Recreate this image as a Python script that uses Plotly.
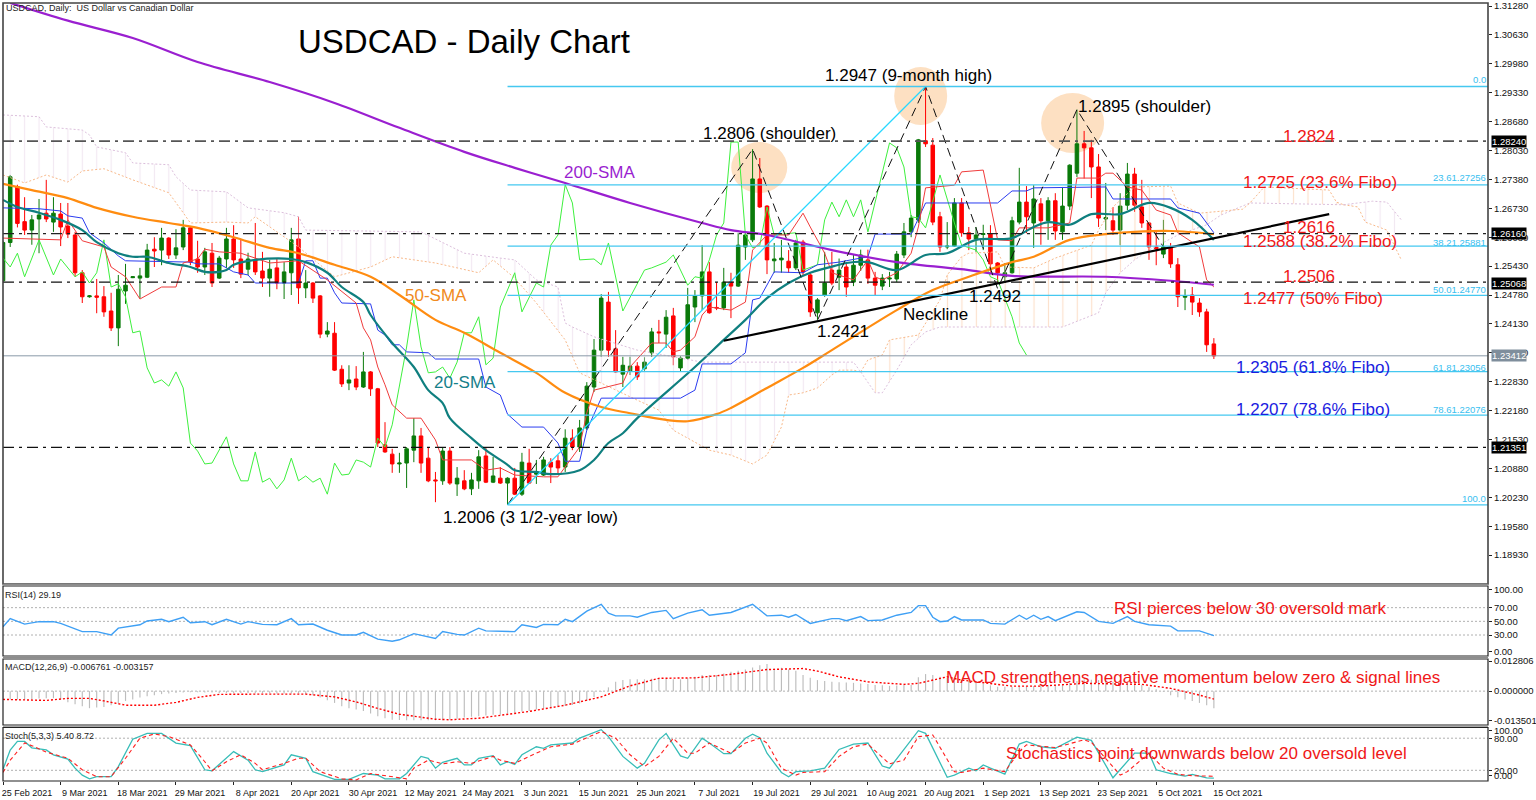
import plotly.graph_objects as go

W, H = 1536, 800
L, R, BOT = 2.5, 1488.0, 781.0

# ---------- data ----------
tick_labels = ["25 Feb 2021","9 Mar 2021","18 Mar 2021","29 Mar 2021","8 Apr 2021","20 Apr 2021","30 Apr 2021",
               "12 May 2021","24 May 2021","3 Jun 2021","15 Jun 2021","25 Jun 2021","7 Jul 2021","19 Jul 2021",
               "29 Jul 2021","10 Aug 2021","20 Aug 2021","1 Sep 2021","13 Sep 2021","23 Sep 2021","5 Oct 2021","15 Oct 2021"]
price_ticks = [1.3128,1.3063,1.2998,1.2933,1.2868,1.2803,1.2738,1.2673,1.2608,1.2543,1.2478,1.2413,1.2348,1.2283,1.2218,1.2153,1.2088,1.2023,1.1958,1.1893]

ohlc = [
(1.2510,1.2600,1.2505,1.2596),(1.2596,1.2748,1.2586,1.2744),(1.2722,1.2726,1.2630,1.2639),(1.2643,1.2698,1.2613,1.2624),
(1.2624,1.2658,1.2591,1.2647),(1.2649,1.2694,1.2572,1.2658),(1.2662,1.2737,1.2642,1.2649),(1.2642,1.2698,1.2620,1.2662),
(1.2660,1.2685,1.2588,1.2631),(1.2633,1.2685,1.2606,1.2615),(1.2613,1.2620,1.2519,1.2528),(1.2528,1.2534,1.2460,1.2474),
(1.2474,1.2478,1.2472,1.2476),(1.2476,1.2514,1.2437,1.2473),(1.2474,1.2498,1.2429,1.2440),(1.2442,1.2483,1.2397,1.2404),
(1.2404,1.2523,1.2363,1.2491),(1.2487,1.2548,1.2458,1.2500),(1.2517,1.2520,1.2516,1.2519),(1.2516,1.2539,1.2471,1.2521),
(1.2518,1.2593,1.2516,1.2579),(1.2581,1.2608,1.2541,1.2577),(1.2579,1.2629,1.2545,1.2606),(1.2606,1.2608,1.2559,1.2568),
(1.2568,1.2626,1.2559,1.2584),(1.2586,1.2647,1.2579,1.2629),(1.2629,1.2631,1.2545,1.2552),(1.2559,1.2600,1.2528,1.2541),
(1.2541,1.2584,1.2523,1.2575),(1.2572,1.2595,1.2496,1.2505),(1.2516,1.2566,1.2514,1.2561),(1.2559,1.2629,1.2539,1.2604),
(1.2604,1.2635,1.2539,1.2557),(1.2559,1.2602,1.2516,1.2525),(1.2536,1.2573,1.2523,1.2559),(1.2557,1.2640,1.2523,1.2530),
(1.2532,1.2575,1.2496,1.2516),(1.2516,1.2557,1.2474,1.2536),(1.2539,1.2559,1.2491,1.2505),(1.2505,1.2552,1.2469,1.2530),
(1.2528,1.2629,1.2478,1.2602),(1.2604,1.2654,1.2458,1.2494),(1.2494,1.2534,1.2471,1.2505),(1.2505,1.2507,1.2460,1.2471),
(1.2476,1.2478,1.2381,1.2390),(1.2390,1.2417,1.2383,1.2397),(1.2392,1.2417,1.2307,1.2309),(1.2311,1.2320,1.2271,1.2278),
(1.2280,1.2320,1.2264,1.2287),(1.2289,1.2318,1.2264,1.2271),(1.2271,1.2350,1.2269,1.2305),(1.2305,1.2307,1.2251,1.2267),
(1.2267,1.2269,1.2136,1.2145),(1.2141,1.2192,1.2123,1.2125),(1.2120,1.2132,1.2078,1.2098),(1.2098,1.2123,1.2078,1.2100),
(1.2100,1.2136,1.2044,1.2132),(1.2129,1.2201,1.2102,1.2161),(1.2161,1.2179,1.2078,1.2100),(1.2111,1.2136,1.2057,1.2060),
(1.2062,1.2080,1.2012,1.2060),(1.2060,1.2136,1.2051,1.2127),(1.2127,1.2136,1.2051,1.2055),(1.2053,1.2091,1.2026,1.2066),
(1.2060,1.2084,1.2039,1.2042),(1.2042,1.2078,1.2028,1.2062),(1.2060,1.2129,1.2042,1.2114),(1.2116,1.2136,1.2055,1.2057),
(1.2057,1.2114,1.2055,1.2071),(1.2066,1.2091,1.2053,1.2055),(1.2055,1.2068,1.2006,1.2066),(1.2066,1.2089,1.2028,1.2030),
(1.2030,1.2123,1.2026,1.2102),(1.2100,1.2132,1.2053,1.2055),(1.2075,1.2107,1.2053,1.2080),(1.2073,1.2114,1.2071,1.2107),
(1.2102,1.2111,1.2055,1.2091),(1.2105,1.2118,1.2075,1.2089),(1.2091,1.2176,1.2080,1.2156),(1.2156,1.2176,1.2129,1.2136),
(1.2136,1.2197,1.2125,1.2179),(1.2179,1.2282,1.2174,1.2273),(1.2271,1.2379,1.2260,1.2354),(1.2354,1.2480,1.2339,1.2471),
(1.2462,1.2485,1.2339,1.2354),(1.2357,1.2399,1.2303,1.2305),(1.2300,1.2339,1.2271,1.2320),(1.2307,1.2339,1.2298,1.2318),
(1.2318,1.2327,1.2287,1.2294),(1.2312,1.2338,1.2305,1.2327),(1.2348,1.2404,1.2339,1.2395),(1.2395,1.2422,1.2370,1.2393),
(1.2390,1.2444,1.2359,1.2428),(1.2431,1.2449,1.2320,1.2339),(1.2314,1.2340,1.2305,1.2336),(1.2336,1.2494,1.2332,1.2456),
(1.2451,1.2489,1.2417,1.2476),(1.2476,1.2590,1.2444,1.2530),(1.2530,1.2552,1.2436,1.2438),(1.2450,1.2507,1.2444,1.2449),
(1.2449,1.2539,1.2444,1.2507),(1.2507,1.2528,1.2426,1.2498),(1.2498,1.2617,1.2496,1.2590),(1.2586,1.2617,1.2557,1.2613),
(1.2602,1.2806,1.2597,1.2739),(1.2739,1.2786,1.2674,1.2676),(1.2678,1.2680,1.2525,1.2557),(1.2555,1.2595,1.2528,1.2559),
(1.2557,1.2602,1.2528,1.2561),(1.2554,1.2579,1.2528,1.2539),(1.2539,1.2602,1.2534,1.2595),(1.2597,1.2602,1.2523,1.2530),
(1.2523,1.2530,1.2429,1.2440),(1.2438,1.2471,1.2422,1.2467),(1.2478,1.2575,1.2474,1.2505),(1.2534,1.2575,1.2500,1.2505),
(1.2518,1.2560,1.2489,1.2534),(1.2541,1.2550,1.2474,1.2496),(1.2507,1.2568,1.2498,1.2545),(1.2545,1.2580,1.2532,1.2568),
(1.2557,1.2580,1.2503,1.2516),(1.2516,1.2530,1.2476,1.2500),(1.2498,1.2525,1.2489,1.2516),(1.2514,1.2530,1.2496,1.2516),
(1.2514,1.2577,1.2507,1.2570),(1.2568,1.2640,1.2561,1.2620),(1.2620,1.2658,1.2608,1.2651),(1.2647,1.2829,1.2640,1.2827),
(1.2825,1.2947,1.2811,1.2818),(1.2815,1.2831,1.2635,1.2642),(1.2654,1.2665,1.2575,1.2586),(1.2586,1.2642,1.2581,1.2588),
(1.2588,1.2696,1.2586,1.2685),(1.2685,1.2696,1.2609,1.2618),(1.2618,1.2631,1.2579,1.2604),(1.2604,1.2631,1.2575,1.2613),
(1.2614,1.2636,1.2579,1.2616),(1.2615,1.2635,1.2528,1.2548),(1.2550,1.2552,1.2505,1.2528),(1.2519,1.2550,1.2505,1.2528),
(1.2528,1.2654,1.2526,1.2645),(1.2642,1.2764,1.2637,1.2687),(1.2687,1.2723,1.2617,1.2654),(1.2640,1.2725,1.2584,1.2694),
(1.2683,1.2696,1.2591,1.2645),(1.2645,1.2698,1.2602,1.2690),(1.2690,1.2707,1.2602,1.2622),(1.2620,1.2721,1.2602,1.2678),
(1.2678,1.2772,1.2669,1.2770),(1.2752,1.2895,1.2743,1.2818),(1.2818,1.2847,1.2740,1.2809),(1.2809,1.2827,1.2696,1.2766),
(1.2766,1.2795,1.2631,1.2651),(1.2649,1.2730,1.2624,1.2652),(1.2645,1.2676,1.2613,1.2624),(1.2624,1.2707,1.2590,1.2678),
(1.2680,1.2775,1.2669,1.2750),(1.2750,1.2764,1.2665,1.2680),(1.2676,1.2737,1.2629,1.2640),(1.2640,1.2642,1.2557,1.2586),
(1.2586,1.2624,1.2545,1.2582),(1.2570,1.2647,1.2561,1.2586),(1.2586,1.2595,1.2539,1.2548),(1.2546,1.2561,1.2451,1.2474),
(1.2473,1.2491,1.2444,1.2476),(1.2478,1.2496,1.2433,1.2462),(1.2460,1.2471,1.2429,1.2440),(1.2440,1.2447,1.2350,1.2366),
(1.2368,1.2381,1.2334,1.2341)]

sma200_i = [1,9,18,27,37,46,55,64,71,78,87,97,101,106,115,124,134,140,153,162,168]
sma200_v = [1.3135,1.3095,1.3056,1.3002,1.2957,1.2910,1.2854,1.2800,1.2764,1.2730,1.2685,1.2640,1.2624,1.2613,1.2579,1.2552,1.2534,1.2521,1.2519,1.2510,1.2501]

sma50_i = [0,4,9,13,18,23,27,32,37,41,46,51,55,60,64,69,74,78,83,87,92,95,99,101,106,111,115,124,129,134,140,143,148,153,157,162,168]
sma50_v = [1.2728,1.2714,1.2696,1.2674,1.2654,1.2640,1.2629,1.2608,1.2584,1.2572,1.2546,1.2519,1.2478,1.2422,1.2393,1.2348,1.2303,1.2258,1.2226,1.2212,1.2197,1.2194,1.2210,1.2224,1.2269,1.2314,1.2354,1.2444,1.2489,1.2519,1.2552,1.2564,1.2602,1.2615,1.2620,1.2622,1.2615]

sma20_i = [0,2,5,8,11,13,16,18,20,23,26,28,30,31,32,35,40,42,45,47,50,51,54,57,59,61,62,65,67,70,71,74,76,80,82,84,86,88,96,100,103,106,109,112,116,117,120,124,128,131,135,140,143,145,148,151,155,159,162,165,168]
sma20_v = [1.2692,1.2676,1.2663,1.2647,1.2624,1.2597,1.2572,1.2564,1.2564,1.2550,1.2541,1.2530,1.2530,1.2534,1.2546,1.2557,1.2559,1.2552,1.2528,1.2496,1.2462,1.2433,1.2370,1.2316,1.2264,1.2235,1.2201,1.2156,1.2129,1.2096,1.2084,1.2080,1.2075,1.2084,1.2107,1.2145,1.2167,1.2201,1.2316,1.2377,1.2422,1.2471,1.2505,1.2528,1.2546,1.2550,1.2552,1.2534,1.2568,1.2572,1.2602,1.2606,1.2631,1.2642,1.2636,1.2660,1.2660,1.2685,1.2674,1.2647,1.2602]

tenkan_i = [0,3,8,9,11,14,15,17,19,22,24,25,27,28,30,33,37,41,45,49,50,51,52,53,54,56,58,60,61,65,67,69,71,75,77,80,81,82,86,87,90,92,93,94,96,97,98,101,103,104,106,109,111,112,114,115,118,120,121,122,124,126,127,128,132,133,136,138,140,141,145,148,149,152,153,154,156,158,160,162,163,166,167,168]
tenkan_v = [1.2606,1.2604,1.2602,1.2647,1.2600,1.2586,1.2541,1.2519,1.2469,1.2496,1.2496,1.2550,1.2559,1.2581,1.2575,1.2572,1.2550,1.2555,1.2512,1.2460,1.2404,1.2377,1.2316,1.2276,1.2231,1.2201,1.2201,1.2152,1.2107,1.2107,1.2084,1.2089,1.2073,1.2069,1.2069,1.2136,1.2213,1.2264,1.2280,1.2316,1.2370,1.2370,1.2350,1.2354,1.2384,1.2433,1.2451,1.2444,1.2462,1.2579,1.2613,1.2613,1.2662,1.2631,1.2572,1.2528,1.2512,1.2557,1.2519,1.2512,1.2528,1.2572,1.2631,1.2719,1.2725,1.2755,1.2759,1.2602,1.2600,1.2629,1.2629,1.2640,1.2741,1.2741,1.2752,1.2752,1.2721,1.2714,1.2669,1.2658,1.2618,1.2586,1.2512,1.2496]

kijun_i = [0,5,8,9,11,12,14,16,17,26,27,30,32,34,35,41,42,43,44,45,46,47,51,52,53,54,55,56,59,60,66,67,69,70,72,75,77,78,80,81,83,94,96,97,101,103,104,105,107,111,113,116,120,121,126,128,138,140,142,143,153,154,162,163,166,168]
kijun_v = [1.2674,1.2672,1.2667,1.2656,1.2651,1.2618,1.2595,1.2566,1.2555,1.2552,1.2548,1.2548,1.2530,1.2523,1.2505,1.2505,1.2555,1.2555,1.2516,1.2516,1.2483,1.2460,1.2458,1.2399,1.2388,1.2366,1.2366,1.2350,1.2348,1.2334,1.2334,1.2271,1.2253,1.2210,1.2181,1.2181,1.2145,1.2104,1.2104,1.2174,1.2246,1.2246,1.2264,1.2323,1.2323,1.2348,1.2467,1.2471,1.2530,1.2528,1.2546,1.2552,1.2564,1.2615,1.2615,1.2685,1.2685,1.2712,1.2712,1.2719,1.2721,1.2694,1.2694,1.2674,1.2662,1.2618]

chikou_i = [0,1,2,3,5,7,8,10,11,12,13,14,15,16,17,18,19,20,21,22,23,24,25,26,27,28,29,31,32,33,34,35,36,37,38,39,40,41,42,43,44,45,46,47,48,49,50,51,52,53,54,55,56,57,58,59,60,61,62,63,64,65,66,67,68,69,70,71,72,74,75,76,77,78,79,80,82,83,84,85,86,89,90,92,93,95,96,97,98,99,100,101,102,103,104,105,106,107,110,111,113,114,115,116,117,118,119,120,121,123,124,125,126,127,128,130,132,133,135,136,137,138,140,141,142]
chikou_v = [1.2561,1.2541,1.2572,1.2519,1.2602,1.2523,1.2559,1.2519,1.2530,1.2505,1.2528,1.2602,1.2496,1.2503,1.2474,1.2393,1.2397,1.2314,1.2280,1.2287,1.2273,1.2305,1.2269,1.2145,1.2127,1.2098,1.2100,1.2159,1.2098,1.2060,1.2060,1.2125,1.2057,1.2066,1.2042,1.2062,1.2111,1.2060,1.2071,1.2057,1.2066,1.2030,1.2100,1.2073,1.2075,1.2107,1.2102,1.2091,1.2156,1.2136,1.2186,1.2271,1.2361,1.2467,1.2361,1.2303,1.2305,1.2316,1.2291,1.2327,1.2393,1.2393,1.2429,1.2321,1.2336,1.2451,1.2489,1.2528,1.2440,1.2505,1.2496,1.2590,1.2613,1.2726,1.2685,1.2557,1.2559,1.2546,1.2595,1.2519,1.2442,1.2534,1.2539,1.2552,1.2568,1.2500,1.2519,1.2516,1.2557,1.2613,1.2640,1.2822,1.2822,1.2613,1.2584,1.2590,1.2676,1.2613,1.2618,1.2534,1.2546,1.2647,1.2687,1.2654,1.2692,1.2654,1.2692,1.2620,1.2685,1.2820,1.2809,1.2766,1.2654,1.2651,1.2629,1.2748,1.2640,1.2590,1.2579,1.2557,1.2519,1.2512,1.2429,1.2370,1.2343]

spanB1_i = [0,5,6,11,12,13,17,18,23,24,26,31,34,39,41,42,58,64,69,71,74,77,78,79,82,88,97,118,119]
spanB1_v = [1.2883,1.2879,1.2856,1.2849,1.2838,1.2811,1.2798,1.2775,1.2771,1.2744,1.2714,1.2710,1.2674,1.2663,1.2654,1.2624,1.2620,1.2572,1.2561,1.2557,1.2512,1.2496,1.2415,1.2406,1.2384,1.2354,1.2327,1.2327,1.2305]
spanA1_i = [0,3,6,9,11,14,18,23,25,26,31,34,35,41,46,51,54,60,66,68,71,74,78,80,87,91,93,98,101,104,106,108,109,111,113,115,116,118,119]
spanA1_v = [1.2748,1.2730,1.2748,1.2732,1.2757,1.2762,1.2737,1.2708,1.2663,1.2640,1.2642,1.2640,1.2654,1.2586,1.2519,1.2541,1.2564,1.2550,1.2528,1.2557,1.2516,1.2460,1.2377,1.2303,1.2249,1.2219,1.2174,1.2129,1.2118,1.2098,1.2118,1.2181,1.2253,1.2258,1.2269,1.2298,1.2309,1.2309,1.2305]
spanA2_i = [119,120,122,123,127,130,131,133,134,138,139,143,146,151,152,154,157,162,163,166,172,173,175,184,185,186]
spanA2_v = [1.2305,1.2332,1.2343,1.2377,1.2388,1.2467,1.2523,1.2564,1.2572,1.2575,1.2541,1.2539,1.2561,1.2590,1.2624,1.2676,1.2721,1.2723,1.2685,1.2662,1.2671,1.2685,1.2721,1.2714,1.2687,1.2681]
spanB2_i = [119,121,122,124,126,128,130,147,152,153,155,157,159,163,167,169,173,186]
spanB2_v = [1.2305,1.2258,1.2258,1.2309,1.2366,1.2395,1.2406,1.2406,1.2438,1.2483,1.2528,1.2557,1.2579,1.2613,1.2636,1.2658,1.2685,1.2681]
spanA3_i = [186,188,189,192,194]
spanA3_v = [1.2681,1.2676,1.2642,1.2624,1.2557]
spanB3_i = [186,188,190,192,194]
spanB3_v = [1.2681,1.2685,1.2689,1.2687,1.2647]

fib_levels = [1.2947,1.27256,1.25881,1.2477,1.23056,1.22076,1.2006]
fib_names = ["0.0","23.61.27256","38.21.25881","50.01.24770","61.81.23056","78.61.22076","100.0"]
hlines = [1.2824,1.2616,1.25068,1.21351]
last_price = 1.23412

hs_i = [70,104,113,128,138,149,161]
hs_v = [1.2006,1.2806,1.2421,1.2947,1.2492,1.2895,1.2586]
neck_i = [100,184]
neck_v = [1.2375,1.2660]
fib_diag_i = [70,128]
fib_diag_v = [1.2006,1.2947]

rsi_i = [0,1,3,5,7,8,11,13,15,16,19,20,22,23,25,26,28,29,31,33,34,36,38,40,41,43,45,47,49,50,52,54,55,57,60,61,63,64,66,67,71,72,74,75,77,78,79,81,83,84,85,87,88,90,92,93,95,97,98,101,104,106,108,109,110,112,115,116,117,119,120,122,124,126,127,128,129,130,131,132,133,136,137,139,141,142,143,144,145,146,149,150,152,154,156,157,159,162,163,166,168]
rsi_v = [42,54,46,49.5,49.5,47,35,35,30,40,45,50.5,53,49.5,56,48,49.5,45,53,46,49.5,45.6,45,54,45,46,37,30,30,34,24,21,23,32,25,35,31,30,40,36,35,45,41,45.6,45,53,49.5,65,75,62,58,58,56,63,66,54,62,67,59,63,75,58,59,56,60,47,54,54,51,57,51,52,59,63,73,73,56,49.5,50.5,57,52,52,47,46,59,53,59,53,57,51,64,63,50,47,57,50,45,43,36,36,29.19]

macd_milli = [-3.6,-3.3,-3.3,-3.3,-3.1,-2.9,-2.8,-2.8,-3.3,-4.4,-5.2,-6.0,-6.8,-6.5,-6.3,-5.6,-4.9,-3.9,-3.3,-2.5,-2.0,-1.6,-1.2,-0.9,-0.7,-0.5,-0.4,-0.4,-0.5,-0.5,-0.7,-0.7,-0.7,-0.7,-0.7,-0.8,-0.8,-0.8,-0.9,-0.9,-0.9,-0.9,-1.2,-1.6,-2.5,-3.6,-4.7,-6.0,-6.8,-7.3,-7.9,-8.9,-10.0,-10.8,-11.4,-11.5,-11.6,-11.6,-11.6,-11.6,-11.6,-11.6,-11.4,-11.0,-10.5,-10.2,-10.0,-9.7,-9.4,-9.4,-8.9,-8.6,-8.1,-7.9,-7.3,-6.9,-6.5,-6.3,-5.9,-5.5,-4.9,-3.9,-2.3,-0.3,1.5,3.7,4.4,4.7,4.7,4.7,4.9,5.1,4.9,4.7,4.7,5.1,5.7,6.4,6.4,6.4,7.0,7.7,8.1,8.6,9.4,10.3,10.8,9.0,9.3,8.6,8.1,6.4,5.3,4.4,4.0,3.7,3.5,3.4,3.3,3.0,2.8,2.4,2.3,2.1,2.2,2.4,2.4,5.5,6.8,6.4,5.7,5.2,5.1,4.4,4.0,3.7,3.0,2.3,1.7,1.7,1.7,1.9,2.0,2.0,2.3,2.4,2.4,2.4,3.2,4.0,4.7,4.5,4.4,4.0,3.7,3.7,3.7,3.0,2.4,1.5,0.7,-0.3,-1.6,-2.4,-3.3,-3.9,-4.7,-5.6,-6.8]
signal_i = [0,4,6,9,12,14,17,21,24,27,30,35,42,46,49,52,55,60,62,66,69,73,78,83,87,91,96,101,106,109,111,113,116,120,125,127,131,133,140,144,150,158,162,166,168]
signal_milli = [-3.3,-3.7,-3.7,-2.9,-2.9,-3.9,-5.6,-5.6,-4.5,-2.5,-1.3,-1.2,-1.2,-2.3,-4.3,-6.9,-9.2,-11.2,-11.4,-10.8,-9.7,-8.1,-5.6,-2.3,2.1,5.1,5.3,6.7,8.6,9.0,9.0,8.0,5.7,3.7,2.7,3.1,5.7,4.4,2.0,2.0,3.1,2.7,1.1,-1.6,-3.16]

stoch_k_i = [0,1,2,3,4,6,7,9,10,11,12,13,15,16,18,19,20,22,24,26,28,29,32,34,35,36,39,40,42,43,45,46,48,50,52,53,55,56,58,59,60,61,63,64,65,66,68,69,70,71,72,74,75,76,79,80,83,84,86,88,89,91,92,94,95,97,98,100,101,103,104,105,106,108,109,110,112,114,116,118,120,122,123,127,128,131,132,134,135,136,137,139,141,142,144,146,149,151,154,157,159,160,162,164,165,167,168]
stoch_k_v = [22,58,74,74,62,58,49,41,24,11,4,8,8,27,78,83,89,89,71,66,21,19,55,39,21,17.5,30,49,42.5,17.5,7,3,3,14,11,4,4,14,46,42.5,24,35,42.5,30,30,42.5,47.5,30,36,31,49,64,61,67.5,71,80,96,83,46,24,33,77,89,47,42.5,80,71,51,51,80,87.5,81,52,16,8,17.5,19,24,59,69,71,28,24,94,89,7,11,24,19,30,24,13,69,74,64,61,82,76,6,52,52,21,14,9,12.5,6,5.4]
stoch_d_i = [0,1,3,4,6,9,11,13,15,17,19,21,23,26,28,29,31,33,35,36,39,41,42,44,47,49,51,54,56,57,59,61,63,65,68,69,71,73,76,79,83,85,87,89,91,93,95,96,98,101,103,105,106,108,110,111,114,116,118,120,123,125,127,129,132,133,136,139,141,142,146,150,151,155,156,159,161,163,165,168]
stoch_d_v = [16,39,71,66,54,42.5,21,8,8,42.5,80,88,83,67.5,36,19,36,49,33,21,33,42.5,42.5,17.5,4,2,14,8,4,24,39,32,36,33,46,39,33,46,64,69,92.5,80,49,27,46,80,52,52,71,52,71,80,71,24,11,16,17.5,46,64,69,32,39,83,86,17.5,16,24,17.5,55,67.5,62.5,77,72.5,11,17.5,52,24,12.5,10,8.72]

# ---------- helpers: page pixels to paper fractions for text and frames ----------
def px(x): return (x - L) / (R - L)
def py(y): return (BOT - y) / BOT
def dom(top, bottom): return [py(bottom), py(top)]

FONT = "Liberation Sans"
SMALL = "Liberation Sans"
bars = list(range(len(ohlc)))

fig = go.Figure()

def line(x, y, color, width=1, dash="solid", axis="y", name=None, shape="linear"):
    fig.add_trace(go.Scatter(x=x, y=y, mode="lines", yaxis=axis, xaxis="x", showlegend=False, hoverinfo="skip",
                             line=dict(color=color, width=width, dash=dash, shape=shape), name=name))

# Ichimoku cloud
PLUM = "#e6d2e6"
ORANGE_H = "#f9c49a"
PLUM_EDGE = "#dcbfdc"
ORANGE_EDGE = "#f8b98a"
def cloud(lo_i, lo_v, hi_i, hi_v, pat_color, lo_color, hi_color):
    line(lo_i, lo_v, lo_color, 1, "2px,2px")
    fig.add_trace(go.Scatter(x=hi_i, y=hi_v, mode="lines", yaxis="y", xaxis="x", showlegend=False, hoverinfo="skip",
                             line=dict(color=hi_color, width=1, dash="2px,2px"), fill="tonexty",
                             fillcolor="rgba(0,0,0,0)",
                             fillpattern=dict(shape="|", fgcolor=pat_color, bgcolor="rgba(255,255,255,0)",
                                              size=14.42, solidity=0.08, fillmode="overlay")))
cloud(spanA1_i, spanA1_v, spanB1_i, spanB1_v, PLUM, ORANGE_EDGE, PLUM_EDGE)
cloud(spanB2_i, spanB2_v, spanA2_i, spanA2_v, ORANGE_H, PLUM_EDGE, ORANGE_EDGE)
cloud(spanA3_i, spanA3_v, spanB3_i, spanB3_v, PLUM, ORANGE_EDGE, PLUM_EDGE)

# Candles
GREEN, RED = "#0a7a0a", "#ff0000"
fig.add_trace(go.Candlestick(x=bars, open=[c[0] for c in ohlc], high=[c[1] for c in ohlc],
                             low=[c[2] for c in ohlc], close=[c[3] for c in ohlc], xaxis="x", yaxis="y",
                             increasing=dict(line=dict(color=GREEN, width=1), fillcolor=GREEN),
                             decreasing=dict(line=dict(color=RED, width=1), fillcolor=RED),
                             whiskerwidth=0, showlegend=False, hoverinfo="skip"))

# Ichimoku lines and moving averages
line(chikou_i, chikou_v, "#3ef03e", 1)
line(kijun_i, kijun_v, "#2a3cf0", 1)
line(tenkan_i, tenkan_v, "#f03c3c", 1)
line(sma200_i, sma200_v, "#9a1fd0", 2.2, shape="spline")
line(sma50_i, sma50_v, "#ff8c10", 2.2, shape="spline")
line(sma20_i, sma20_v, "#0f7f7f", 2.2, shape="spline")

# Analyst drawings
line(hs_i, hs_v, "#111111", 1, "9px,5px")
line(fib_diag_i, fib_diag_v, "#28d8ff", 1.3)
line(neck_i, neck_v, "#000000", 2.2)

# RSI panel
line(rsi_i, rsi_v, "#3fa0f5", 1.4, axis="y2")
# MACD panel
fig.add_trace(go.Bar(x=bars, y=[v * 1e-3 for v in macd_milli], xaxis="x", yaxis="y3", width=0.16,
                     marker=dict(color="#bdbdbd", line=dict(width=0)), showlegend=False, hoverinfo="skip"))
line(signal_i, [v * 1e-3 for v in signal_milli], "#ff0000", 1.4, "2px,2px", axis="y3")
# Stochastic panel
line(stoch_k_i, stoch_k_v, "#38bdb8", 1.3, axis="y4")
line(stoch_d_i, stoch_d_v, "#ff2020", 1.1, "4px,3px", axis="y4")

shapes = []
# tan ellipses
for x0, x1, y0, y1 in [(731, 787, 142, 193), (894, 947, 67, 125), (1041, 1104, 93, 153)]:
    shapes.append(dict(type="circle", xref="paper", yref="paper", x0=px(x0), x1=px(x1), y0=py(y1), y1=py(y0),
                       fillcolor="#fde0c2", line=dict(width=0), layer="below"))
# Fibonacci levels
for v in fib_levels:
    shapes.append(dict(type="line", xref="x", yref="y", x0=70, x1=206.03, y0=v, y1=v,
                       line=dict(color="#45c8f0", width=1.3), layer="above"))
# dash-dot horizontals
for v, c, w in zip(hlines, ["#555555", "#222222", "#111111", "#111111"], [1.6, 1.2, 1.2, 1.2]):
    shapes.append(dict(type="line", xref="paper", yref="y", x0=0, x1=1, y0=v, y1=v,
                       line=dict(color=c, width=w, dash="11px,5px,3px,5px"), layer="above"))
shapes.append(dict(type="line", xref="paper", yref="y", x0=0, x1=1, y0=last_price, y1=last_price,
                   line=dict(color="#8a9aa8", width=1), layer="above"))
# oscillator reference levels
for axis, vals in (("y2", [70, 50, 30]), ("y3", [0]), ("y4", [80, 20])):
    for v in vals:
        shapes.append(dict(type="line", xref="paper", yref=axis, x0=0, x1=1, y0=v, y1=v,
                           line=dict(color="#b0b0b0", width=1, dash="2px,2px"), layer="below"))
# panel frames
for axis, col, lw in (("y", "#444444", 1.6), ("y2", "#222222", 1.2), ("y3", "#222222", 1.2), ("y4", "#222222", 1.2)):
    shapes.append(dict(type="rect", xref="paper", yref=f"{axis} domain", x0=0, x1=1, y0=0, y1=1,
                       line=dict(color=col, width=lw), layer="above"))
# grey separator bands
for y in (584.5, 657.5, 726):
    shapes.append(dict(type="line", xref="paper", yref="paper", x0=0, x1=1, y0=py(y), y1=py(y),
                       line=dict(color="#8c8c8c", width=1.5), layer="above"))

ann = []
def text(x, y, s, color="#000000", size=17, anchor="center", font=FONT, bg=None):
    d = dict(xref="paper", yref="paper", x=px(x), y=py(y), text=s, showarrow=False, xanchor=anchor, yanchor="middle",
             font=dict(family=font, size=size, color=color), borderpad=0)
    if bg:
        d["bgcolor"] = bg
    ann.append(d)

text(464, 42, "USDCAD - Daily Chart", size=33)
text(5, 8.5, "USDCAD, Daily:  US Dollar vs Canadian Dollar", size=9, anchor="left", font=SMALL, color="#222222")
text(908, 75, "1.2947 (9-month high)")
text(769, 133, "1.2806 (shoulder)")
text(1144, 107, "1.2895 (shoulder)")
text(600, 172, "200-SMA", color="#9a1fd0")
text(436, 295, "50-SMA", color="#f08a20")
text(465, 382, "20-SMA", color="#15808a")
text(843, 331, "1.2421")
text(935, 314, "Neckline")
text(995, 296, "1.2492")
text(530, 517, "1.2006 (3 1/2-year low)")
RED_T, BLUE_T = "#f01818", "#1c1ce0"
text(1309, 136, "1.2824", RED_T)
text(1320, 182, "1.2725 (23.6% Fibo)", RED_T)
text(1309, 228, "1.2616", RED_T)
text(1320, 241, "1.2588 (38.2% Fibo)", RED_T)
text(1309, 276, "1.2506", RED_T)
text(1313, 298, "1.2477 (50% Fibo)", RED_T)
text(1313, 367, "1.2305 (61.8% Fibo)", BLUE_T)
text(1313, 410, "1.2207 (78.6% Fibo)", BLUE_T)
text(1250, 608, "RSI pierces below 30 oversold mark", RED_T)
text(1193, 677, "MACD strengthens negative momentum below zero &amp; signal lines", RED_T)
text(1206, 753, "Stochastics point downwards below 20 oversold level", RED_T)
text(4, 595, "RSI(14) 29.19", size=9, anchor="left", font=SMALL, color="#222222")
text(4, 667, "MACD(12,26,9) -0.006761 -0.003157", size=9, anchor="left", font=SMALL, color="#222222")
text(4, 736, "Stoch(5,3,3) 5.40 8.72", size=9, anchor="left", font=SMALL, color="#222222")
for s, y in zip(fib_names, [80, 178, 242, 289, 367, 410, 498]):
    text(1487, y, s, "#38c0f0", 9.5, "right", SMALL)
for v, y, bg in ((1.2824, 141, "#000000"), (1.2616, 233, "#000000"), (1.25068, 283, "#000000"),
                 (1.21351, 448, "#000000"), (last_price, 356, "#7f8e9c")):
    text(1491, y, f"{v:.5f}", "#ffffff", 9.5, "left", SMALL, bg=bg)

tick_font = dict(family=SMALL, size=9.5, color="#111111")
yax = dict(side="right", anchor="x", showgrid=False, zeroline=False, ticks="outside", ticklen=3, tickwidth=1,
           tickcolor="#222222", tickfont=tick_font, showline=False, fixedrange=True, automargin=False)

fig.update_layout(
    width=W, height=H, autosize=False, margin=dict(l=L, r=W - R, t=0, b=H - BOT, pad=0, autoexpand=False),
    paper_bgcolor="white", plot_bgcolor="white", showlegend=False, barmode="overlay",
    shapes=shapes, annotations=ann, hovermode=False,
    xaxis=dict(domain=[0, 1], anchor="y4", range=[0, (R - L) / 7.21], showgrid=False, zeroline=False,
               rangeslider=dict(visible=False), tickmode="array", tickvals=[8 * k for k in range(len(tick_labels))],
               ticktext=tick_labels, tickfont=dict(family=SMALL, size=9, color="#111111"), ticks="outside", ticklen=3,
               tickcolor="#222222", tickangle=0, ticklabelshift=24, showline=False, fixedrange=True, automargin=False),
    yaxis=dict(domain=dom(3, 584), range=[1.2478 - 289 / 4446, 1.2478 + 292 / 4446], tickmode="array",
               tickvals=price_ticks, ticktext=[f"{v:.5f}" for v in price_ticks], **yax),
    yaxis2=dict(domain=dom(586, 656), range=[-0.7, 101.7], tickmode="array", tickvals=[96, 70, 50, 30, 5.6],
                ticktext=["100.00", "70.00", "50.00", "30.00", "0.00"], **yax),
    yaxis3=dict(domain=dom(659, 725), range=[-0.013501, 0.012806], tickmode="array",
                tickvals=[0.012, 0, -0.0116], ticktext=["0.012806", "0.000000", "-0.013501"], **yax),
    yaxis4=dict(domain=dom(727.5, 781), range=[0, 100], tickmode="array", tickvals=[94.3, 80, 20, 9.4],
                ticktext=["100.00", "80.00", "20.00", "0.00"], **yax),
)

fig.write_html("out.html", post_script="document.body.style.margin='0';document.body.style.overflow='hidden';",
               config=dict(displayModeBar=False, staticPlot=True))
